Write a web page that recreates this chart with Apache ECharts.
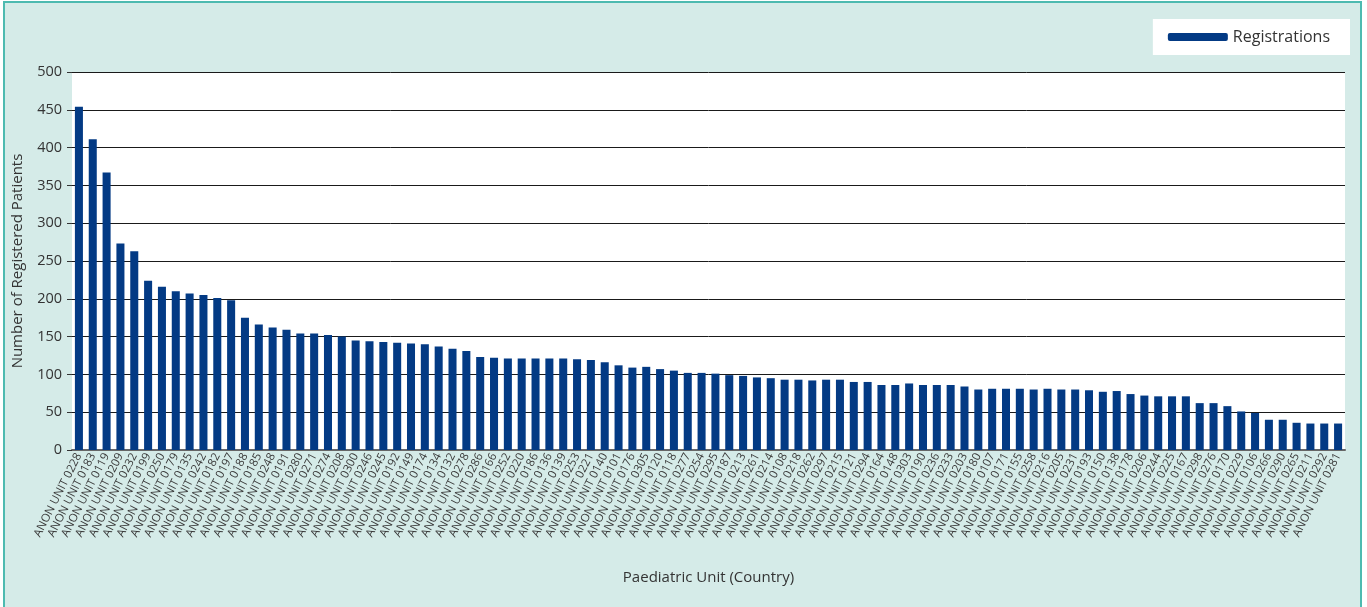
<!DOCTYPE html>
<html>
<head>
<meta charset="utf-8">
<script src="https://cdn.jsdelivr.net/npm/echarts@6/dist/echarts.min.js"></script>
<style>
  html, body { margin: 0; padding: 0; background: #ffffff; }
  #frame { position: absolute; left: 3px; top: 1px; width: 1359px; height: 606px;
           border: 2px solid #4dbab0; border-bottom: none; background: #d5ebe8; box-sizing: border-box; }
  #chart { position: absolute; left: 0; top: 0; width: 1367px; height: 607px; }
</style>
</head>
<body>
<div id="frame"></div>
<div id="chart"></div>
<script>
// Paediatric units, ordered by number of registered patients
const units = [
  '0228','0183','0119','0209','0232','0199','0250','0179','0135','0242',
  '0182','0197','0188','0185','0248','0191','0280','0271','0274','0208',
  '0300','0246','0245','0192','0149','0174','0134','0132','0278','0286',
  '0166','0252','0220','0186','0136','0139','0253','0221','0140','0101',
  '0176','0305','0120','0118','0277','0254','0295','0187','0213','0261',
  '0214','0108','0218','0262','0297','0215','0121','0294','0164','0148',
  '0303','0190','0236','0233','0203','0180','0107','0171','0155','0258',
  '0216','0205','0231','0193','0150','0138','0178','0206','0244','0225',
  '0167','0298','0276','0170','0229','0106','0266','0290','0265','0211',
  '0292','0281'
];
const categories = units.map(u => 'ANON UNIT ' + u);

const registrations = [
  454, 411, 367, 273, 263, 224, 216, 210, 207, 205,
  201, 198, 175, 166, 162, 159, 154, 154, 152, 150,
  145, 144, 143, 142, 141, 140, 137, 134, 131, 123,
  122, 121, 121, 121, 121, 121, 120, 119, 116, 112,
  109, 110, 107, 105, 102, 102, 101,  99,  98,  96,
   95,  93,  93,  92,  93,  93,  90,  90,  86,  86,
   88,  86,  86,  86,  84,  80,  81,  81,  81,  80,
   81,  80,  80,  79,  77,  78,  74,  72,  71,  71,
   71,  62,  62,  58,  51,  49,  40,  40,  36,  35,
   35,  35
];

const yTicks = { min: 0, max: 500, interval: 50 };

const font = '"Open Sans", "Noto Sans", sans-serif';
const chart = echarts.init(document.getElementById('chart'), null, { renderer: 'canvas' });

chart.setOption({
  backgroundColor: 'transparent',
  animation: false,
  textStyle: { fontFamily: font },
  grid: { left: 72, right: 22, top: 72, bottom: 157, show: true,
          backgroundColor: '#ffffff', borderWidth: 0 },
  legend: {
    data: ['Registrations'],
    right: 17, top: 19,
    padding: [9, 20, 9, 15],
    backgroundColor: '#ffffff',
    itemWidth: 60, itemHeight: 8, itemGap: 6,
    icon: 'roundRect',
    textStyle: { fontSize: 16, lineHeight: 18, color: '#333333', fontFamily: font }
  },
  xAxis: {
    type: 'category',
    data: categories,
    name: 'Paediatric Unit (Country)',
    nameLocation: 'middle',
    nameGap: 120,
    nameTextStyle: { fontSize: 15, color: '#333333' },
    axisLine: { lineStyle: { color: '#666666', width: 2 } },
    axisTick: { show: false },
    axisLabel: { interval: 0, rotate: 63, fontSize: 11.5, color: '#3a3a3a', margin: 4 }
  },
  yAxis: {
    type: 'value',
    min: yTicks.min, max: yTicks.max, interval: yTicks.interval,
    name: 'Number of Registered Patients',
    nameLocation: 'middle',
    nameGap: 47,
    nameTextStyle: { fontSize: 15, color: '#333333' },
    axisLine: { show: false },
    axisTick: { show: true, length: 5, lineStyle: { color: '#333333' } },
    axisLabel: { fontSize: 14.5, color: '#333333', margin: 10 },
    splitLine: { lineStyle: { color: '#1a1a1a', width: 1 } }
  },
  series: [{
    name: 'Registrations',
    type: 'bar',
    data: registrations,
    barCategoryGap: '42%',
    itemStyle: { color: '#033a84' }
  }]
});
</script>
</body>
</html>
